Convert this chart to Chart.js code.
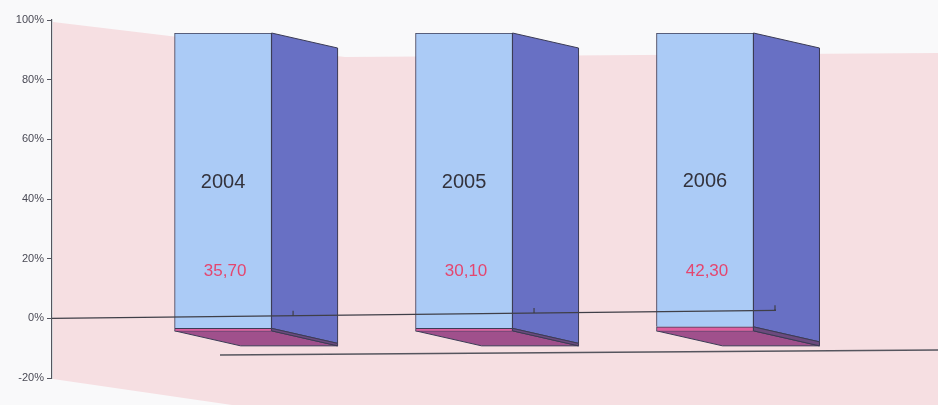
<!DOCTYPE html>
<html>
<head>
<meta charset="utf-8">
<script src="https://cdn.jsdelivr.net/npm/chart.js@4.4.1/dist/chart.umd.min.js"></script>
<style>
  html, body { margin: 0; padding: 0; background: #f9f9fa; }
  #wrap { width: 938px; height: 405px; position: relative; }
</style>
</head>
<body>
<div id="wrap"><canvas id="chart"></canvas></div>
<script>
// data
const years = ['2004', '2005', '2006'];
const values = [35.70, 30.10, 42.30];       // printed values
const mainShare = [99.0, 99.0, 98.5];       // blue part, % of bar
const otherShare = [1.0, 1.0, 1.5];         // thin magenta part, % of bar
const yTicks = [-20, 0, 20, 40, 60, 80, 100];

const SHIFT = 13;          // front faces sit a bit below the back wall
const DEPTH = [66, 15];    // 3d depth vector
const FONT = '"Liberation Sans", Arial, sans-serif';

// pink back wall, 3d faces, labels
const wallPlugin = {
  id: 'wall',
  beforeDatasetsDraw(chart) {
    const ctx = chart.ctx, ca = chart.chartArea;
    const y = chart.scales.y;
    ctx.save();
    ctx.fillStyle = '#f6dfe2';
    ctx.beginPath();
    ctx.moveTo(ca.left + 1, y.getPixelForValue(100) + 2);
    ctx.lineTo(345, 57);
    ctx.lineTo(chart.width, 53);
    ctx.lineTo(chart.width, chart.height);
    ctx.lineTo(232, chart.height);
    ctx.lineTo(ca.left + 1, y.getPixelForValue(-20) + 1);
    ctx.closePath();
    ctx.fill();
    ctx.restore();

    const top = chart.getDatasetMeta(1).data;
    const bot = chart.getDatasetMeta(0).data;
    ctx.save();
    ctx.translate(0, SHIFT);
    ctx.lineWidth = 1;
    ctx.strokeStyle = '#3b3b55';
    top.forEach((bar, i) => {
      const b = bot[i];
      const l = bar.x - bar.width / 2, r = bar.x + bar.width / 2;
      const t = bar.y, m = b.y, base = b.base;
      const [dx, dy] = DEPTH;
      // floor
      ctx.fillStyle = '#a0508c';
      ctx.beginPath();
      ctx.moveTo(l, base); ctx.lineTo(r, base);
      ctx.lineTo(r + dx, base + dy); ctx.lineTo(l + dx, base + dy);
      ctx.closePath(); ctx.fill(); ctx.stroke();
      // side of the blue part
      ctx.fillStyle = '#6870c4';
      ctx.beginPath();
      ctx.moveTo(r, t); ctx.lineTo(r + dx, t + dy);
      ctx.lineTo(r + dx, m + dy); ctx.lineTo(r, m);
      ctx.closePath(); ctx.fill(); ctx.stroke();
      // side of the magenta part
      ctx.fillStyle = '#6c4a7e';
      ctx.beginPath();
      ctx.moveTo(r, m); ctx.lineTo(r + dx, m + dy);
      ctx.lineTo(r + dx, base + dy); ctx.lineTo(r, base);
      ctx.closePath(); ctx.fill(); ctx.stroke();
    });
  },
  afterDatasetsDraw(chart) {
    const ctx = chart.ctx;
    const y = chart.scales.y;
    const top = chart.getDatasetMeta(1).data;
    ctx.textAlign = 'center';
    ctx.textBaseline = 'middle';
    top.forEach((bar, i) => {
      ctx.fillStyle = '#33333d';
      ctx.font = '20px ' + FONT;
      ctx.fillText(years[i], bar.x, (bar.y + bar.base) / 2 + 2);
      ctx.fillStyle = '#e4466f';
      ctx.font = '17px ' + FONT;
      ctx.fillText(values[i].toFixed(2).replace('.', ','), bar.x + 2, y.getPixelForValue(20));
    });
    ctx.restore();

    // zero line with category ticks, and the front floor edge
    const ca = chart.chartArea, x = chart.scales.x;
    const y0 = y.getPixelForValue(0);
    const xEnd = x.getPixelForValue(2) + 71;
    const slope = -8 / (xEnd - ca.left);
    ctx.save();
    ctx.strokeStyle = '#3f3f48';
    ctx.lineWidth = 1.2;
    ctx.beginPath();
    ctx.moveTo(ca.left, y0);
    ctx.lineTo(xEnd, y0 + slope * (xEnd - ca.left));
    years.forEach((_, i) => {
      const tx = x.getPixelForValue(i) + 70;
      const ty = y0 + slope * (tx - ca.left);
      ctx.moveTo(tx, ty); ctx.lineTo(tx, ty - 5);
    });
    ctx.stroke();
    ctx.strokeStyle = '#55555e';
    ctx.lineWidth = 1.5;
    ctx.beginPath();
    ctx.moveTo(220, 355);
    ctx.lineTo(chart.width, 350);
    ctx.stroke();
    ctx.restore();
  }
};

new Chart(document.getElementById('chart'), {
  type: 'bar',
  data: {
    datasets: [
      {
        label: 'other',
        data: otherShare.map((v, i) => ({ x: i, y: v })),
        backgroundColor: '#df5e9e',
        borderColor: '#3b3b55',
        borderWidth: 1,
        barThickness: 97
      },
      {
        label: 'main',
        data: mainShare.map((v, i) => ({ x: i, y: v })),
        backgroundColor: '#abcbf6',
        borderColor: '#3b3b55',
        borderWidth: 1,
        barThickness: 97
      }
    ]
  },
  options: {
    responsive: true,
    maintainAspectRatio: false,
    animation: false,
    layout: { padding: { top: 20, bottom: 27, left: 0, right: 0 } },
    plugins: { legend: { display: false }, tooltip: { enabled: false } },
    scales: {
      x: {
        type: 'linear',
        stacked: true,
        display: false,
        offset: false,
        min: -0.71,
        max: 2.967
      },
      y: {
        stacked: true,
        min: -20,
        max: 100,
        afterBuildTicks: s => { s.ticks = yTicks.map(v => ({ value: v })); },
        afterFit: s => { s.width = 52; },
        grid: { drawOnChartArea: false, tickLength: 5, color: '#55555e' },
        border: { display: true, color: '#55555e', width: 1.2 },
        ticks: {
          padding: 3,
          color: '#4a4a55',
          font: { family: FONT, size: 11 },
          callback: v => v + '%'
        }
      }
    }
  },
  plugins: [wallPlugin]
});
</script>
</body>
</html>
